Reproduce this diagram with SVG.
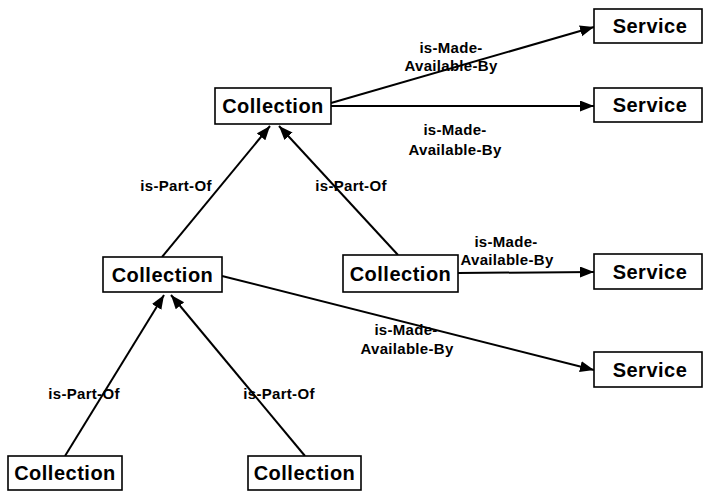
<svg xmlns="http://www.w3.org/2000/svg" width="704" height="493" viewBox="0 0 704 493">
<style>
.box{fill:#fff;stroke:#000;stroke-width:1.6}
.nt{font-family:"Liberation Sans",Arial,sans-serif;font-weight:bold;font-size:20px;text-anchor:middle;fill:#000;letter-spacing:0.5px}
.lb{font-family:"Liberation Sans",Arial,sans-serif;font-weight:bold;font-size:15px;text-anchor:middle;fill:#000;letter-spacing:0.3px}
.cn{stroke:#000;stroke-width:2;fill:none;marker-end:url(#ah)}
</style>
<defs>
<marker id="ah" markerUnits="userSpaceOnUse" markerWidth="15" markerHeight="12" refX="14" refY="5.5" orient="auto">
<path d="M0,0 L14,5.5 L0,11 z" fill="#000"/>
</marker>
</defs>
<rect width="704" height="493" fill="#fff"/>
<g id="connectors">
<line class="cn" x1="331" y1="103" x2="594" y2="27"/>
<line class="cn" x1="331" y1="106" x2="594" y2="106"/>
<line class="cn" x1="458" y1="273" x2="594" y2="272"/>
<line class="cn" x1="222" y1="276" x2="594" y2="370"/>
<line class="cn" x1="162" y1="257" x2="270" y2="126"/>
<line class="cn" x1="398" y1="255" x2="279" y2="126"/>
<line class="cn" x1="65" y1="456" x2="164" y2="295"/>
<line class="cn" x1="305" y1="456" x2="171" y2="295"/>
<text class="lb" x="451" y="53">is-Made-</text>
<text class="lb" x="451" y="71">Available-By</text>
<text class="lb" x="455" y="135">is-Made-</text>
<text class="lb" x="455" y="155">Available-By</text>
<text class="lb" x="506" y="247">is-Made-</text>
<text class="lb" x="507" y="265">Available-By</text>
<text class="lb" x="406" y="335">is-Made-</text>
<text class="lb" x="407" y="354">Available-By</text>
<text class="lb" x="176" y="191">is-Part-Of</text>
<text class="lb" x="351" y="191">is-Part-Of</text>
<text class="lb" x="84" y="399">is-Part-Of</text>
<text class="lb" x="279" y="399">is-Part-Of</text>
</g>
<g id="c-top"><rect class="box" x="215" y="88" width="116" height="36"/><text class="nt" x="273" y="113">Collection</text></g>
<g id="c-mid"><rect class="box" x="103" y="257" width="119" height="35"/><text class="nt" x="162.5" y="282">Collection</text></g>
<g id="c-right"><rect class="box" x="343" y="255" width="115" height="37"/><text class="nt" x="400.5" y="281">Collection</text></g>
<g id="c-bl"><rect class="box" x="8" y="456" width="114" height="34"/><text class="nt" x="65" y="480">Collection</text></g>
<g id="c-br"><rect class="box" x="248" y="456" width="113" height="34"/><text class="nt" x="304.5" y="480">Collection</text></g>
<g id="s1"><rect class="box" x="594" y="9" width="108" height="34"/><text class="nt" x="650" y="33">Service</text></g>
<g id="s2"><rect class="box" x="594" y="88" width="108" height="34"/><text class="nt" x="650" y="112">Service</text></g>
<g id="s3"><rect class="box" x="594" y="254" width="108" height="35"/><text class="nt" x="650" y="279">Service</text></g>
<g id="s4"><rect class="box" x="594" y="352" width="108" height="35"/><text class="nt" x="650" y="377">Service</text></g>
</svg>
